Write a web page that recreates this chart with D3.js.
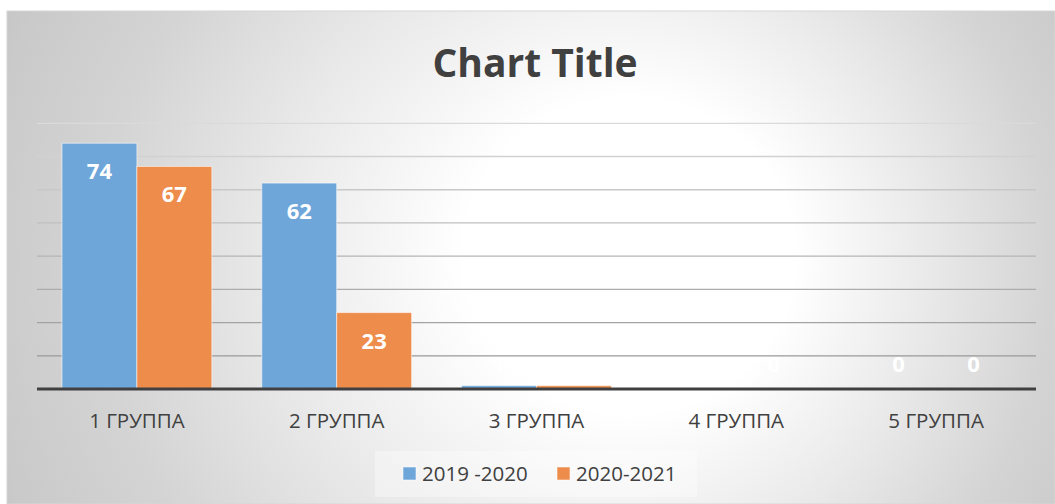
<!DOCTYPE html>
<html>
<head>
<meta charset="utf-8">
<script src="https://cdn.jsdelivr.net/npm/d3@7/dist/d3.min.js"></script>
<style>
  html, body { margin: 0; padding: 0; background: #ffffff; }
  svg { display: block; }
</style>
</head>
<body>
<svg id="chart" width="1055" height="504"></svg>
<script>
const categories = ["1 ГРУППА", "2 ГРУППА", "3 ГРУППА", "4 ГРУППА", "5 ГРУППА"];
const seriesNames = ["2019 -2020", "2020-2021"];
const values2019 = [74, 62, 1, 0, 0];
const values2020 = [67, 23, 1, 0, 0];
const yTicks = [0, 10, 20, 30, 40, 50, 60, 70, 80];
const seriesColors = ["#6fa6da", "#ee8c4b"];
const title = "Chart Title";

const seriesValues = [values2019, values2020];
const svg = d3.select("#chart");
const W = 1055, H = 504;

// background gradient
const defs = svg.append("defs");
const grad = defs.append("radialGradient")
  .attr("id", "bg")
  .attr("gradientUnits", "userSpaceOnUse")
  .attr("cx", 540).attr("cy", 270).attr("r", 660)
  .attr("fx", 660).attr("fy", 250)
  .attr("gradientTransform", "translate(0,270) scale(1,0.95) translate(0,-270)");
[[0, "#ffffff"], [0.25, "#ffffff"], [0.5, "#e9e9e9"], [0.72, "#d4d4d4"], [0.88, "#cacaca"], [1, "#c0c0c0"]]
  .forEach(([o, c]) => grad.append("stop").attr("offset", o).attr("stop-color", c));

svg.append("rect")
  .attr("x", 7).attr("y", 11).attr("width", W - 7).attr("height", H - 11)
  .attr("fill", "url(#bg)")
  .attr("stroke", "#d6d6d6").attr("stroke-width", 1);

const plot = { left: 37, right: 1036, top: 123.3, bottom: 389 };

const x0 = d3.scaleBand().domain(categories)
  .range([plot.left, plot.right]).paddingInner(0.25).paddingOuter(0.125);
const x1 = d3.scaleBand().domain(seriesNames).range([0, x0.bandwidth()]);
const y = d3.scaleLinear().domain([0, 80]).range([plot.bottom, plot.top]);

// gridlines
const gridColor = d3.scaleLinear().domain([80, 10]).range(["#dadada", "#9a9a9a"]);
svg.append("g").selectAll("line")
  .data(yTicks.filter(t => t > 0))
  .join("line")
  .attr("x1", plot.left).attr("x2", plot.right)
  .attr("y1", d => y(d)).attr("y2", d => y(d))
  .attr("stroke", d => gridColor(d))
  .attr("stroke-width", 1.3);

// title
svg.append("text")
  .attr("x", 535).attr("y", 77)
  .attr("text-anchor", "middle")
  .attr("font-family", "'Open Sans', sans-serif")
  .attr("font-weight", "bold")
  .attr("font-size", 39)
  .attr("fill", "#404040")
  .text(title);

// bars
const groups = svg.append("g").selectAll("g")
  .data(categories)
  .join("g")
  .attr("transform", d => `translate(${x0(d)},0)`);

groups.selectAll("rect")
  .data((c, i) => seriesNames.map((s, k) => ({ s, k, v: seriesValues[k][i] })))
  .join("rect")
  .attr("x", d => x1(d.s))
  .attr("y", d => y(d.v))
  .attr("width", x1.bandwidth())
  .attr("height", d => y(0) - y(d.v))
  .attr("fill", d => seriesColors[d.k])
  .attr("stroke", "rgba(255,255,255,0.55)")
  .attr("stroke-width", 1);

// baseline axis
svg.append("line")
  .attr("x1", plot.left).attr("x2", plot.right)
  .attr("y1", y(0)).attr("y2", y(0))
  .attr("stroke", "#404040").attr("stroke-width", 3);

// data labels
groups.selectAll("text")
  .data((c, i) => seriesNames.map((s, k) => ({ s, k, v: seriesValues[k][i] })))
  .join("text")
  .attr("x", d => x1(d.s) + x1.bandwidth() / 2)
  .attr("y", d => Math.min(y(d.v) + 36, y(0) - 17))
  .attr("text-anchor", "middle")
  .attr("font-family", "'Open Sans', sans-serif")
  .attr("font-weight", "bold")
  .attr("font-size", 22)
  .attr("fill", "#ffffff")
  .text(d => d.v);

// x axis labels
const xAxis = d3.axisBottom(x0).tickSize(0).tickPadding(0);
const gx = svg.append("g")
  .attr("transform", `translate(0,${y(0)})`)
  .call(xAxis);
gx.select(".domain").remove();
gx.selectAll("text")
  .attr("dy", null)
  .attr("y", 39)
  .attr("font-family", "'Open Sans', sans-serif")
  .attr("font-size", 20.5)
  .attr("fill", "#404040");

// legend
const legend = svg.append("g");
legend.append("rect")
  .attr("x", 375).attr("y", 451).attr("width", 322).attr("height", 46)
  .attr("fill", "#ffffff").attr("fill-opacity", 0.35);
const legendX = [403, 557];
seriesNames.forEach((s, k) => {
  legend.append("rect")
    .attr("x", legendX[k]).attr("y", 467).attr("width", 13).attr("height", 13)
    .attr("fill", seriesColors[k])
    .attr("stroke", "rgba(255,255,255,0.55)").attr("stroke-width", 1);
  legend.append("text")
    .attr("x", legendX[k] + 19).attr("y", 481)
    .attr("font-family", "'Open Sans', sans-serif")
    .attr("font-size", 20.5)
    .attr("fill", "#404040")
    .text(s);
});
</script>
</body>
</html>
